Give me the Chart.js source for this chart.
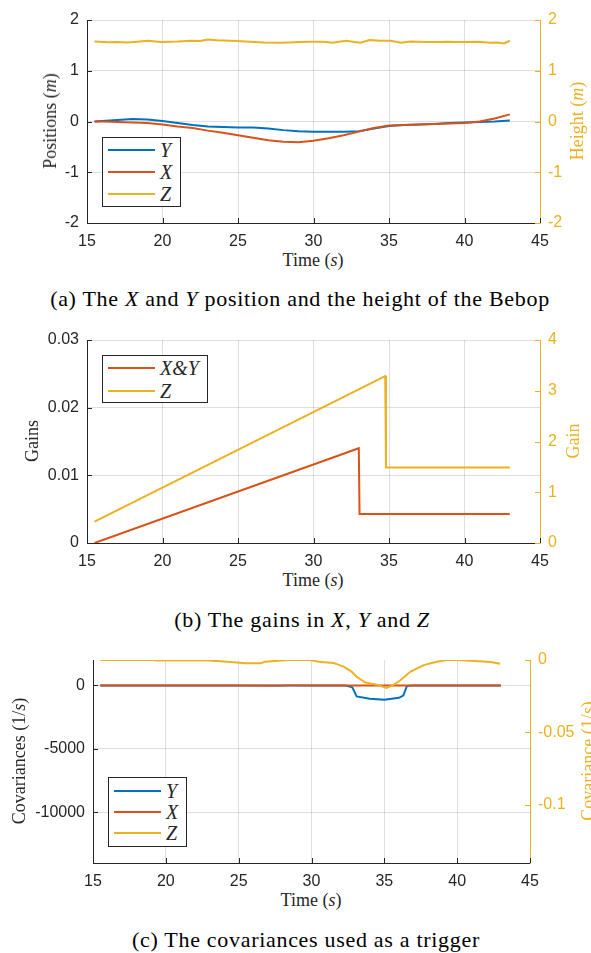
<!DOCTYPE html>
<html>
<head>
<meta charset="utf-8">
<script src="https://cdn.jsdelivr.net/npm/chart.js@4.4.1/dist/chart.umd.min.js"></script>
<style>
  body { margin: 0; width: 591px; height: 953px; overflow: hidden; background: #fff; position: relative;
         font-family: "Liberation Serif", "Times New Roman", serif; color: #262626; }
  canvas { position: absolute; left: 0; }
  .lbl { position: absolute; white-space: nowrap; font-size: 18px; line-height: 18px; transform: translate(-50%, -50%); }
  .rot { transform: translate(-50%, -50%) rotate(-90deg); }
  .yel { color: #EDB120; }
  .cap { position: absolute; white-space: nowrap; font-size: 22px; line-height: 22px; letter-spacing: 0.7px;
         transform: translateX(-50%); color: #000; }
  .legend { position: absolute; border: 1px solid #262626; background: #fff; box-sizing: border-box; }
  .legend .sw { position: absolute; height: 2px; }
  .legend .tx { position: absolute; font-style: italic; font-size: 20px; line-height: 20px; color: #262626; }
</style>
</head>
<body>
<canvas id="posChart" width="591" height="250" style="top:0"></canvas>
<canvas id="gainChart" width="591" height="250" style="top:320px"></canvas>
<canvas id="covChart" width="591" height="250" style="top:640px"></canvas>

<div class="lbl rot" style="left:50px; top:121px">Positions (<i>m</i>)</div>
<div class="lbl rot yel" style="left:577px; top:121px">Height (<i>m</i>)</div>
<div class="lbl" style="left:313px; top:260px">Time (<i>s</i>)</div>
<div class="cap" style="left:300px; top:288px">(a) The <i>X</i> and <i>Y</i> position and the height of the Bebop</div>

<div class="lbl rot" style="left:32px; top:441px">Gains</div>
<div class="lbl rot yel" style="left:573px; top:441px">Gain</div>
<div class="lbl" style="left:313px; top:580px">Time (<i>s</i>)</div>
<div class="cap" style="left:302px; top:609px">(b) The gains in <i>X</i>, <i>Y</i> and <i>Z</i></div>

<div class="lbl rot" style="left:19px; top:761px">Covariances (1/<i>s</i>)</div>
<div class="lbl rot yel" style="left:588px; top:761px">Covariance (1/<i>s</i>)</div>
<div class="lbl" style="left:311px; top:900px">Time (<i>s</i>)</div>
<div class="cap" style="left:306px; top:929px">(c) The covariances used as a trigger</div>

<script>
// ---- data ----
const timeTicks = [15, 20, 25, 30, 35, 40, 45];

// (a) positions
const posTicks = [-2, -1, 0, 1, 2];
const posT = [15.5, 16, 17, 18, 19, 20, 21, 22, 23, 24, 25, 26, 27, 28, 29, 30, 31, 32, 33, 34, 35, 36, 37, 38, 39, 40, 41, 42, 43];
const posY = [0, 0.01, 0.03, 0.05, 0.04, 0.01, -0.03, -0.07, -0.1, -0.11, -0.12, -0.12, -0.14, -0.17, -0.19, -0.2, -0.2, -0.2, -0.19, -0.14, -0.09, -0.07, -0.06, -0.05, -0.03, -0.02, -0.01, 0, 0.02];
const posX = [0, 0, -0.01, -0.02, -0.03, -0.06, -0.1, -0.13, -0.18, -0.22, -0.27, -0.32, -0.37, -0.4, -0.41, -0.38, -0.33, -0.27, -0.2, -0.13, -0.08, -0.07, -0.06, -0.05, -0.04, -0.03, 0, 0.06, 0.14];
const heightT = [15.5, 16.4, 17.0, 17.7, 18.3, 19.0, 19.9, 20.5, 21.0, 21.9, 22.5, 23.0, 23.6, 24.5, 25.2, 25.8, 26.7, 27.8, 28.4, 29.1, 29.8, 30.6, 31.3, 31.8, 32.2, 32.7, 33.1, 33.7, 34.4, 35.1, 35.8, 36.4, 36.9, 37.5, 38.2, 38.8, 39.5, 40.2, 40.9, 41.7, 42.2, 42.6, 43.0];
const heightZ = [1.575, 1.56, 1.565, 1.555, 1.57, 1.59, 1.565, 1.57, 1.575, 1.59, 1.585, 1.617, 1.60, 1.59, 1.58, 1.571, 1.558, 1.551, 1.558, 1.565, 1.571, 1.571, 1.551, 1.575, 1.591, 1.565, 1.551, 1.604, 1.591, 1.591, 1.551, 1.575, 1.571, 1.565, 1.565, 1.571, 1.565, 1.565, 1.571, 1.551, 1.558, 1.538, 1.591];

// (b) gains
const gainTicks = [0, 0.01, 0.02, 0.03];
const gainRightTicks = [0, 1, 2, 3, 4];
const gainXYT = [15.5, 33.0, 33.05, 43.0];
const gainXY = [0, 0.0140, 0.0043, 0.0043];
const gainZT = [15.5, 34.75, 34.8, 43.0];
const gainZ = [0.42, 3.29, 1.49, 1.49];

// (c) covariances
const covTicks = [-10000, -5000, 0];
const covRightTicks = [-0.1, -0.05, 0];
const covYT = [15.5, 32.3, 32.8, 33.1, 34.0, 35.0, 36.0, 36.3, 36.55, 37.0, 43.0];
const covY = [0, 0, -150, -870, -1050, -1130, -980, -800, -50, 0, 0];
const covXT = [15.5, 20, 25, 27.5, 28.5, 30, 35, 40, 43];
const covX = [0, 0, 0, -20, 0, 0, 0, 0, 0];
const covZT = [15.5, 19.1, 19.4, 22.8, 23.2, 24.2, 25.5, 26.5, 26.8, 28.0, 28.5, 29.9, 30.5, 31.5, 32.2, 32.75, 33.1, 33.7, 34.5, 35.15, 35.6, 36.1, 36.8, 37.7, 38.6, 39.3, 40.0, 41.2, 42.3, 42.95];
const covZ = [0, 0, -0.0004, -0.0002, -0.0005, -0.0012, -0.0023, -0.0023, -0.0012, -0.0003, 0, 0, -0.0012, -0.002, -0.0046, -0.008, -0.0116, -0.0155, -0.017, -0.0193, -0.0174, -0.014, -0.008, -0.0035, -0.0012, 0, 0, -0.0007, -0.0014, -0.0026];

// ---- styling ----
const INK = '#262626', YEL = '#EDB120', BLUE = '#0072BD', RED = '#D95319';
const GRID = 'rgba(38,38,38,0.15)';
const TICK_FONT = { family: '"Liberation Sans", Arial, sans-serif', size: 16 };

function pts(ts, vs) {
    return ts.map((t, i) => ({ x: t, y: vs[i] }));
}

function fixedTicks(list) {
    return scale => { scale.ticks = list.map(v => ({ value: v })); };
}

// MATLAB-like tick marks pointing into the plot
const innerTicks = {
    id: 'innerTicks',
    afterDraw(chart) {
        const { ctx, chartArea } = chart;
        ctx.save();
        ctx.lineWidth = 1;
        Object.values(chart.scales).forEach(scale => {
            ctx.strokeStyle = scale.options.border.color;
            scale.ticks.forEach(t => {
                const p = Math.round(scale.getPixelForValue(t.value)) + 0.5;
                ctx.beginPath();
                if (scale.axis === 'x') {
                    ctx.moveTo(p, chartArea.bottom);
                    ctx.lineTo(p, chartArea.bottom - 5);
                } else if (scale.position === 'left') {
                    ctx.moveTo(chartArea.left, p);
                    ctx.lineTo(chartArea.left + 5, p);
                } else {
                    ctx.moveTo(chartArea.right, p);
                    ctx.lineTo(chartArea.right - 5, p);
                }
                ctx.stroke();
            });
        });
        ctx.restore();
    }
};

function makeOptions(o) {
    return {
        responsive: false,
        animation: false,
        layout: { padding: { top: 20, left: 0, right: 0, bottom: 0 } },
        plugins: { legend: { display: false }, tooltip: { enabled: false } },
        elements: { point: { radius: 0 }, line: { borderWidth: 2, tension: 0 } },
        scales: {
            x: {
                type: 'linear', min: 15, max: 45,
                afterBuildTicks: fixedTicks(timeTicks),
                afterFit: s => { s.height = 27; },
                grid: { color: GRID, drawTicks: false },
                border: { color: INK, width: 1 },
                ticks: { color: INK, font: TICK_FONT, padding: 9, maxRotation: 0 }
            },
            y: {
                position: 'left', min: o.lmin, max: o.lmax,
                afterBuildTicks: fixedTicks(o.lticks),
                afterFit: s => { s.width = o.lw; },
                grid: { color: GRID, drawTicks: false },
                border: { color: INK, width: 1 },
                ticks: { color: INK, font: TICK_FONT, padding: 8, callback: v => String(v) }
            },
            y2: {
                position: 'right', min: o.rmin, max: o.rmax,
                afterBuildTicks: fixedTicks(o.rticks),
                afterFit: s => { s.width = o.rw; },
                grid: { display: false, drawTicks: false },
                border: { color: YEL, width: 1 },
                ticks: { color: YEL, font: TICK_FONT, padding: 8, callback: v => String(v) }
            }
        }
    };
}

function line(label, color, data, axis, order) {
    return { label: label, data: data, borderColor: color, backgroundColor: color, fill: false, yAxisID: axis, order: order };
}

function addLegend(box, datasets) {
    const el = document.createElement('div');
    el.className = 'legend';
    el.style.left = box.left + 'px';
    el.style.top = box.top + 'px';
    el.style.width = box.width + 'px';
    el.style.height = box.height + 'px';
    datasets.forEach((ds, i) => {
        const sw = document.createElement('div');
        sw.className = 'sw';
        sw.style.left = '5px';
        sw.style.width = '47px';
        sw.style.top = (box.rows[i] - 2) + 'px';
        sw.style.background = ds.borderColor;
        const tx = document.createElement('div');
        tx.className = 'tx';
        tx.style.left = '57px';
        tx.style.top = (box.rows[i] - 11) + 'px';
        tx.textContent = ds.label;
        el.appendChild(sw);
        el.appendChild(tx);
    });
    document.body.appendChild(el);
}

// (a) positions
const posSets = [
    line('Y', BLUE, pts(posT, posY), 'y', 3),
    line('X', RED, pts(posT, posX), 'y', 2),
    line('Z', YEL, pts(heightT, heightZ), 'y2', 1)
];
new Chart(document.getElementById('posChart'), {
    type: 'line',
    data: { datasets: posSets },
    options: makeOptions({ lmin: -2, lmax: 2, lticks: posTicks, lw: 87, rmin: -2, rmax: 2, rticks: posTicks, rw: 51 }),
    plugins: [innerTicks]
});
addLegend({ left: 102, top: 137, width: 79, height: 70, rows: [13, 35, 57] }, posSets);

// (b) gains
const gainSets = [
    line('X&Y', RED, pts(gainXYT, gainXY), 'y', 2),
    line('Z', YEL, pts(gainZT, gainZ), 'y2', 1)
];
new Chart(document.getElementById('gainChart'), {
    type: 'line',
    data: { datasets: gainSets },
    options: makeOptions({ lmin: 0, lmax: 0.03, lticks: gainTicks, lw: 87, rmin: 0, rmax: 4, rticks: gainRightTicks, rw: 51 }),
    plugins: [innerTicks]
});
addLegend({ left: 102, top: 355, width: 106, height: 48, rows: [13, 36] }, gainSets);

// (c) covariances
const covSets = [
    line('Y', BLUE, pts(covYT, covY), 'y', 3),
    line('X', RED, pts(covXT, covX), 'y', 2),
    line('Z', YEL, pts(covZT, covZ), 'y2', 1)
];
new Chart(document.getElementById('covChart'), {
    type: 'line',
    data: { datasets: covSets },
    options: makeOptions({ lmin: -14000, lmax: 2000, lticks: covTicks, lw: 93, rmin: -0.14, rmax: 0, rticks: covRightTicks, rw: 61 }),
    plugins: [innerTicks]
});
addLegend({ left: 108, top: 777, width: 79, height: 70, rows: [14, 35, 56] }, covSets);
</script>
</body>
</html>
